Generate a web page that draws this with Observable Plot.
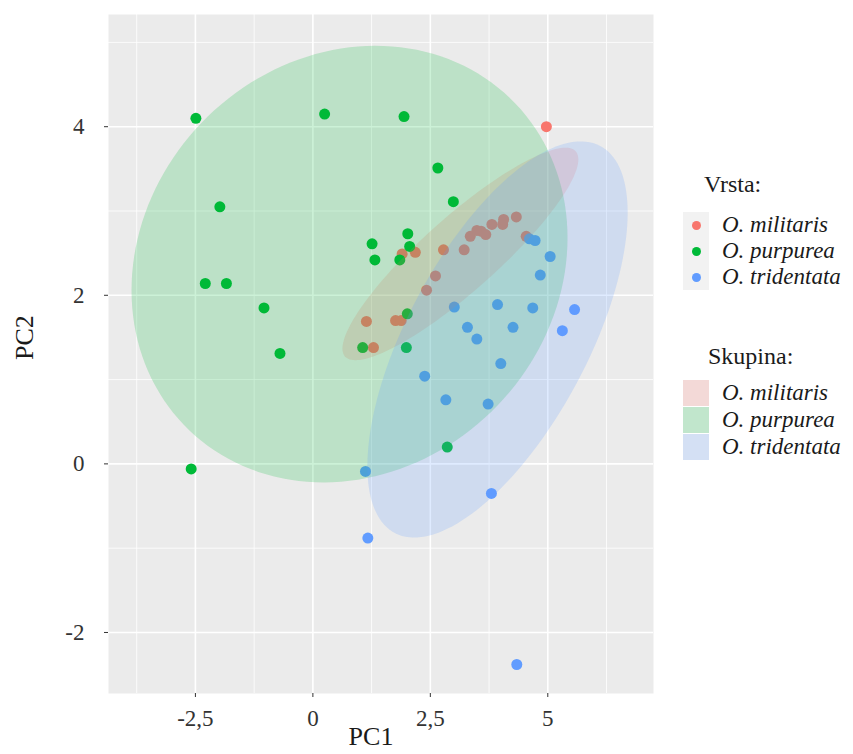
<!DOCTYPE html>
<html>
<head>
<meta charset="utf-8">
<script src="https://cdn.jsdelivr.net/npm/d3@7"></script>
<script src="https://cdn.jsdelivr.net/npm/@observablehq/plot@0.6"></script>
<style>
  body { margin: 0; background: #fff; font-family: "Liberation Serif", "Times New Roman", serif; }
  #wrap { position: relative; width: 853px; height: 754px; overflow: hidden; }
  #wrap svg { position: absolute; left: 0; top: 0; }
  .lg { position: absolute; color: #1a1a1a; white-space: nowrap; }
  .lg-title { font-size: 24px; line-height: 26px; }
  .lg-text { font-size: 23px; line-height: 26px; font-style: italic; }
  .lg-key { position: absolute; width: 26px; height: 26px; background: #F2F2F2; }
  .lg-key .dot { position: absolute; left: 8.5px; top: 8.5px; width: 9px; height: 9px; border-radius: 50%; }
  .lg-key .fillbox { position: absolute; left: 0; top: 0; width: 26px; height: 26px; opacity: 0.2; }
</style>
</head>
<body>
<div id="wrap"></div>
<script>
// ---- data ----
const species = ["O. militaris", "O. purpurea", "O. tridentata"];
const speciesColors = ["#F8766D", "#00BA38", "#619CFF"];

const militarisX = [4.97, 1.14, 1.29, 1.76, 1.88, 1.90, 2.18, 2.78, 3.22, 2.42, 2.61, 3.35, 3.49, 3.58, 3.68, 3.81, 4.04, 4.06, 4.33, 4.54];
const militarisY = [4.00, 1.69, 1.38, 1.70, 1.70, 2.49, 2.51, 2.54, 2.54, 2.06, 2.23, 2.70, 2.77, 2.76, 2.72, 2.84, 2.84, 2.90, 2.93, 2.70];

const purpureaX = [-2.49, 0.25, 1.94, -1.98, 2.66, 2.99, 2.02, 1.26, 1.32, 2.06, 1.85, -2.29, -1.84, -1.04, -0.70, 1.06, 1.99, 2.01, 2.86, -2.59];
const purpureaY = [4.10, 4.15, 4.12, 3.05, 3.51, 3.11, 2.73, 2.61, 2.42, 2.58, 2.42, 2.14, 2.14, 1.85, 1.31, 1.38, 1.38, 1.78, 0.20, -0.06];

const tridentataX = [4.61, 4.73, 5.05, 4.84, 3.01, 3.93, 4.68, 5.57, 3.29, 4.26, 5.31, 3.49, 4.00, 2.38, 2.83, 3.73, 1.12, 3.80, 1.17, 4.34];
const tridentataY = [2.67, 2.65, 2.46, 2.24, 1.86, 1.89, 1.85, 1.83, 1.62, 1.62, 1.58, 1.48, 1.19, 1.04, 0.76, 0.71, -0.09, -0.35, -0.88, -2.38];

// ellipse parameters (centre, half-extent in x and y, correlation)
const ellipseCx = [3.14, 0.78, 3.93];
const ellipseCy = [2.49, 2.37, 1.476];
const ellipseSx = [2.51, 4.64, 2.77];
const ellipseSy = [1.26, 2.59, 2.35];
const ellipseR  = [0.89, 0.12, 0.64];

const xMajor = [-2.5, 0, 2.5, 5];
const xMinor = [-3.75, -1.25, 1.25, 3.75, 6.25];
const yMajor = [-2, 0, 2, 4];
const yMinor = [-1, 1, 3, 5];

// ---- build tables ----
const seriesX = [militarisX, purpureaX, tridentataX];
const seriesY = [militarisY, purpureaY, tridentataY];
const points = [];
species.forEach((s, i) => seriesX[i].forEach((x, j) => points.push({x, y: seriesY[i][j], sp: s})));

function ellipsePath(i) {
  const out = [];
  const n = 160;
  const r = ellipseR[i];
  const k = Math.sqrt(1 - r * r);
  for (let j = 0; j <= n; j++) {
    const t = 2 * Math.PI * j / n;
    out.push({
      x: ellipseCx[i] + ellipseSx[i] * Math.cos(t),
      y: ellipseCy[i] + ellipseSy[i] * (r * Math.cos(t) + k * Math.sin(t))
    });
  }
  return out;
}

const fmt = d => String(d).replace(".", ",");

const chart = Plot.plot({
  width: 853,
  height: 754,
  marginLeft: 108,
  marginRight: 200,
  marginTop: 14,
  marginBottom: 61,
  style: { fontFamily: "'Liberation Serif', 'Times New Roman', serif", color: "#333", background: "transparent" },
  x: { domain: [-4.35, 7.25] },
  y: { domain: [-2.724, 5.331] },
  color: { domain: species, range: speciesColors },
  marks: [
    Plot.frame({ fill: "#EBEBEB", stroke: "none" }),
    Plot.ruleX(xMinor, { stroke: "white", strokeWidth: 0.8 }),
    Plot.ruleY(yMinor, { stroke: "white", strokeWidth: 0.8 }),
    Plot.ruleX(xMajor, { stroke: "white", strokeWidth: 1.6 }),
    Plot.ruleY(yMajor, { stroke: "white", strokeWidth: 1.6 }),
    Plot.dot(points, { x: "x", y: "y", fill: "sp", r: 5.5, stroke: "none" }),
    ...species.map((s, i) => Plot.line(ellipsePath(i), {
      x: "x", y: "y", fill: speciesColors[i], fillOpacity: 0.2, stroke: "none", curve: "linear"
    })),
    Plot.axisX({ ticks: xMajor, tickFormat: fmt, tickSize: 4, tickPadding: 12, fontSize: 23, label: null }),
    Plot.axisY({ ticks: yMajor, tickFormat: d => String(d), tickSize: 4, tickPadding: 20, fontSize: 23, label: null }),
    Plot.text(["PC1"], { text: d => d, frameAnchor: "bottom", dy: 51, dx: -10, fontSize: 26, fill: "#1a1a1a" }),
    Plot.text(["PC2"], { text: d => d, frameAnchor: "left", dx: -84, dy: 6, rotate: -90, fontSize: 26, fill: "#1a1a1a" })
  ]
});

const wrap = document.getElementById("wrap");
wrap.appendChild(chart);

// ---- legend (HTML) ----
function addEl(cls, left, top, html) {
  const d = document.createElement("div");
  d.className = cls;
  d.style.left = left + "px";
  d.style.top = top + "px";
  if (html != null) d.innerHTML = html;
  wrap.appendChild(d);
  return d;
}
addEl("lg lg-title", 704, 171, "Vrsta:");
const ptRows = [225, 251, 277];
species.forEach((s, i) => {
  const key = addEl("lg-key", 683, ptRows[i] - 13);
  const dot = document.createElement("div");
  dot.className = "dot";
  dot.style.background = speciesColors[i];
  key.appendChild(dot);
  addEl("lg lg-text", 722, ptRows[i] - 13, s);
});
addEl("lg lg-title", 708, 343, "Skupina:");
const fillRows = [393, 420, 447];
species.forEach((s, i) => {
  const key = addEl("lg-key", 683, fillRows[i] - 13);
  const fb = document.createElement("div");
  fb.className = "fillbox";
  fb.style.background = speciesColors[i];
  key.appendChild(fb);
  addEl("lg lg-text", 722, fillRows[i] - 13, s);
});
</script>
</body>
</html>
